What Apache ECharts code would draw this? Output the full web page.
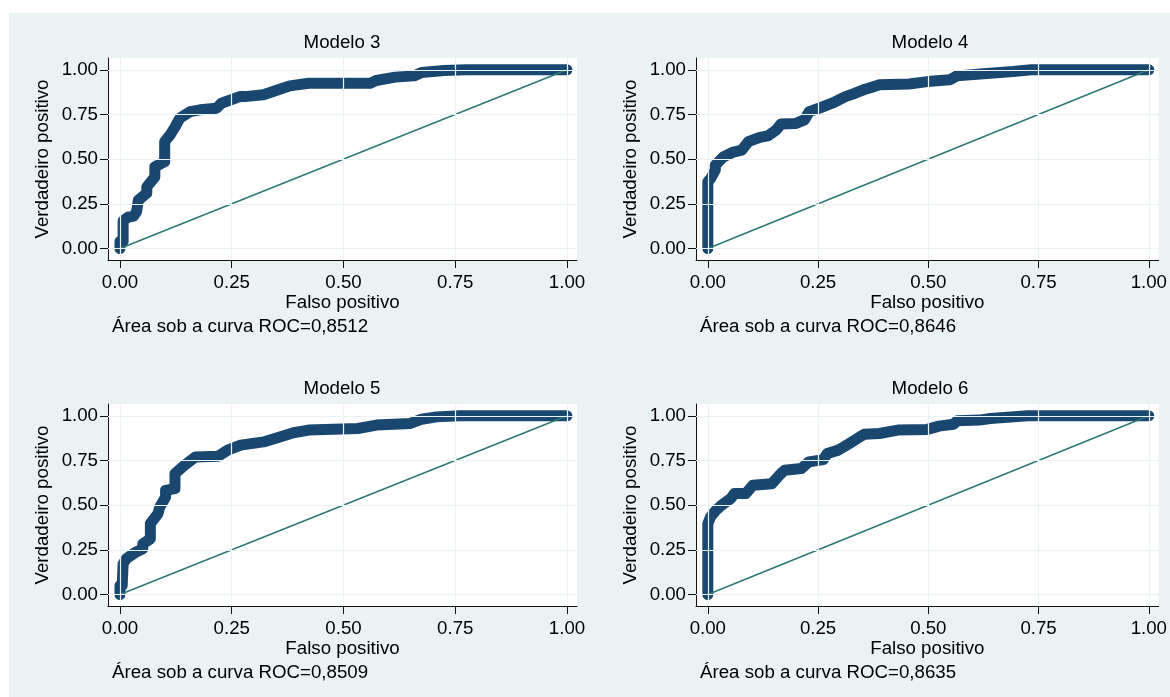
<!DOCTYPE html>
<html>
<head>
<meta charset="utf-8">
<script src="https://cdn.jsdelivr.net/npm/echarts@6/dist/echarts.min.js"></script>
<style>
html,body{margin:0;padding:0;background:#fff;width:1170px;height:697px;overflow:hidden}
#c{position:absolute;left:9px;top:13px;width:1161px;height:684px}
</style>
</head>
<body>
<div id="c"></div>
<script>
// ---- data ----
const panelTitles = ['Modelo 3', 'Modelo 4', 'Modelo 5', 'Modelo 6'];
const aucNotes = ['Área sob a curva ROC=0,8512', 'Área sob a curva ROC=0,8646',
                  'Área sob a curva ROC=0,8509', 'Área sob a curva ROC=0,8635'];
const tickValues = [0, 0.25, 0.5, 0.75, 1];
const xAxisName = 'Falso positivo';
const yAxisName = 'Verdadeiro positivo';

const m3FP = [0, 0, 0.007, 0.007, 0.019, 0.03, 0.037, 0.041, 0.06, 0.06, 0.078, 0.078, 0.10, 0.10, 0.112, 0.123, 0.134, 0.157, 0.179, 0.216, 0.227, 0.268, 0.279, 0.321, 0.354, 0.38, 0.422, 0.447, 0.56, 0.573, 0.616, 0.658, 0.675, 0.725, 0.775, 1];
const m3TP = [0, 0.04, 0.04, 0.156, 0.177, 0.18, 0.205, 0.27, 0.31, 0.345, 0.40, 0.457, 0.486, 0.598, 0.635, 0.68, 0.73, 0.766, 0.776, 0.785, 0.813, 0.85, 0.85, 0.86, 0.888, 0.91, 0.925, 0.925, 0.925, 0.94, 0.959, 0.966, 0.985, 0.996, 1, 1];

const m4FP = [0, 0, 0.006, 0.017, 0.017, 0.036, 0.058, 0.077, 0.092, 0.118, 0.136, 0.155, 0.166, 0.2, 0.219, 0.23, 0.252, 0.282, 0.312, 0.334, 0.353, 0.372, 0.389, 0.456, 0.498, 0.549, 0.565, 0.625, 0.692, 0.734, 1];
const m4TP = [0, 0.374, 0.39, 0.44, 0.467, 0.514, 0.54, 0.551, 0.598, 0.622, 0.63, 0.663, 0.697, 0.70, 0.72, 0.766, 0.785, 0.813, 0.85, 0.869, 0.888, 0.903, 0.916, 0.921, 0.934, 0.944, 0.966, 0.978, 0.99, 1, 1];

const m5FP = [0, 0, 0.005, 0.007, 0.014, 0.035, 0.051, 0.051, 0.068, 0.068, 0.085, 0.089, 0.102, 0.102, 0.123, 0.123, 0.144, 0.169, 0.22, 0.241, 0.27, 0.321, 0.354, 0.388, 0.422, 0.532, 0.574, 0.65, 0.675, 0.708, 0.76, 1];
const m5TP = [0, 0.05, 0.05, 0.172, 0.2, 0.237, 0.256, 0.284, 0.312, 0.397, 0.453, 0.49, 0.546, 0.583, 0.593, 0.677, 0.723, 0.77, 0.774, 0.808, 0.836, 0.854, 0.879, 0.905, 0.92, 0.929, 0.948, 0.957, 0.981, 0.994, 1, 1];

const m6FP = [0, 0, 0.006, 0.018, 0.031, 0.052, 0.06, 0.086, 0.102, 0.145, 0.162, 0.174, 0.212, 0.229, 0.262, 0.271, 0.296, 0.321, 0.343, 0.355, 0.389, 0.431, 0.498, 0.524, 0.557, 0.566, 0.616, 0.641, 0.726, 1];
const m6TP = [0, 0.396, 0.434, 0.47, 0.5, 0.537, 0.565, 0.565, 0.611, 0.62, 0.667, 0.695, 0.705, 0.742, 0.755, 0.789, 0.808, 0.845, 0.879, 0.897, 0.901, 0.92, 0.924, 0.942, 0.953, 0.972, 0.976, 0.985, 1, 1];

const curvesFP = [m3FP, m4FP, m5FP, m6FP];
const curvesTP = [m3TP, m4TP, m5TP, m6TP];
const diagonal = [[0, 0], [1, 1]];

// ---- layout / style ----
const FONT = '"Liberation Sans", Arial, sans-serif';
const FS = 18.7;
const navy = '#1A476F';
const teal = '#2C7873';
const gridCol = '#EAF2F3';
const panels = [
  {left: 99, top: 45}, {left: 687, top: 45},
  {left: 99, top: 391}, {left: 687, top: 391}
];
const PW = 469, PH = 202;
const XMIN = -0.0268, XMAX = 1.0224, YMIN = -0.064, YMAX = 1.066;

const grids = [], xAxes = [], yAxes = [], series = [], graphics = [];
panels.forEach((p, i) => {
  grids.push({left: p.left, top: p.top, width: PW, height: PH, show: true,
              backgroundColor: '#fff', borderWidth: 0, containLabel: false});
  xAxes.push({type: 'value', gridIndex: i, min: XMIN, max: XMAX,
    name: xAxisName, nameLocation: 'middle', nameGap: 32,
    nameTextStyle: {fontFamily: FONT, fontSize: FS, color: '#000'},
    axisLine: {show: true, onZero: false, lineStyle: {color: '#111', width: 1}},
    axisTick: {show: true, length: 8, customValues: tickValues, lineStyle: {color: '#111'}},
    axisLabel: {show: true, customValues: tickValues, margin: 13, color: '#000',
      fontFamily: FONT, fontSize: FS, formatter: v => v.toFixed(2)},
    splitLine: {show: false}});
  yAxes.push({type: 'value', gridIndex: i, min: YMIN, max: YMAX,
    name: yAxisName, nameLocation: 'middle', nameGap: 56, nameRotate: 90,
    nameTextStyle: {fontFamily: FONT, fontSize: FS, color: '#000'},
    axisLine: {show: true, onZero: false, lineStyle: {color: '#111', width: 1}},
    axisTick: {show: true, length: 8, customValues: tickValues, lineStyle: {color: '#111'}},
    axisLabel: {show: true, customValues: tickValues, margin: 10, color: '#000',
      fontFamily: FONT, fontSize: FS, formatter: v => v.toFixed(2)},
    splitLine: {show: false}});
  // grid lines
  series.push({type: 'line', xAxisIndex: i, yAxisIndex: i, data: [[0, 0]], z: 1,
    showSymbol: false, lineStyle: {opacity: 0}, silent: true,
    markLine: {silent: true, symbol: ['none', 'none'], label: {show: false},
      lineStyle: {color: gridCol, width: 1.2, type: 'solid'},
      data: tickValues.map(v => ({xAxis: v})).concat(tickValues.map(v => ({yAxis: v})))}});
  // ROC curve
  const pts = curvesFP[i].map((x, k) => [x, curvesTP[i][k]]);
  series.push({type: 'line', xAxisIndex: i, yAxisIndex: i, data: pts, z: 3,
    showSymbol: false, smooth: false, silent: true,
    lineStyle: {color: navy, width: 11, cap: 'round', join: 'round'}});
  // reference diagonal
  series.push({type: 'line', xAxisIndex: i, yAxisIndex: i, data: diagonal, z: 4,
    showSymbol: false, silent: true, lineStyle: {color: teal, width: 1.5}});
  // title and note
  graphics.push({type: 'text', x: p.left + PW / 2 - 0.5, y: p.top - 15,
    style: {text: panelTitles[i], font: FS + 'px ' + FONT, fill: '#000',
      textAlign: 'center', textVerticalAlign: 'middle'}});
  graphics.push({type: 'text', x: p.left + 4, y: p.top + 268.7,
    style: {text: aucNotes[i], font: FS + 'px ' + FONT, fill: '#000',
      textAlign: 'left', textVerticalAlign: 'middle'}});
});

const chart = echarts.init(document.getElementById('c'), null, {renderer: 'canvas'});
chart.setOption({
  animation: false,
  backgroundColor: '#EAF2F3',
  grid: grids, xAxis: xAxes, yAxis: yAxes, series: series,
  graphic: graphics
});
</script>
</body>
</html>
